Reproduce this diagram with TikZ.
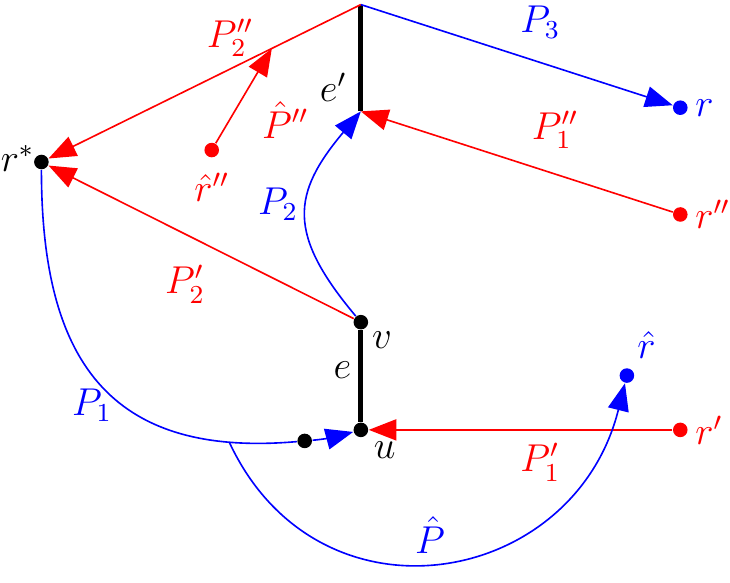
\documentclass[tikz,border=0pt]{standalone}
\usetikzlibrary{arrows.meta, positioning}

\begin{document}
\begin{tikzpicture}[
    dot/.style       = {circle, fill, inner sep=0pt, minimum size=4.5pt},
    bluearrow/.style = {-{Triangle[length=8.5pt,width=6.5pt]}, blue, line width=0.5pt},
    redarrow/.style  = {-{Triangle[length=8.5pt,width=6.5pt]}, red, line width=0.5pt},
    edgeline/.style  = {line width=1.6pt, black},
    lbl/.style       = {font=\large},
]
\useasboundingbox (-3.92,-1.66) rectangle (4.01,4.67);

% Knoten
\coordinate (top)  at (0,4.62);
\coordinate (ebot) at (0,3.46);
\node[dot] (u)     at (0,0) {};
\node[dot] (v)     at (0,1.17) {};
\node[dot] (w)     at (-0.61,-0.12) {};
\node[dot] (rstar) at (-3.47,2.91) {};
\node[dot, blue] (r)    at (3.47,3.50) {};
\node[dot, blue] (rhat) at (2.89,0.59) {};
\node[dot, red] (rpp)   at (3.47,2.34) {};
\node[dot, red] (rp)    at (3.47,0) {};
\node[dot, red] (rhpp)  at (-1.62,3.04) {};

% Kanten e und e'
\draw[edgeline] (top) -- (ebot);
\draw[edgeline] (v) -- (u);

% rote Pfade
\draw[redarrow] (top) -- coordinate[pos=0.285] (q) (rstar);
\draw[redarrow] (v) -- (rstar);
\draw[redarrow] (rpp) -- (ebot);
\draw[redarrow] (rp) -- (u);
\draw[redarrow] (rhpp) -- (q);

% blaue Pfade
\draw[bluearrow] (top) -- (r);
\draw[bluearrow] (v) to[out=130, in=-130, looseness=1.34] (ebot);
\draw[bluearrow] (rstar) to[out=-90, in=185, looseness=1.3] coordinate[pos=0.87] (br) (w)
                 to[out=5, in=195] (u);
\draw[bluearrow] (br) to[out=-65, in=-104, looseness=1.35] (rhat);

% Beschriftungen
\node[lbl, anchor=east, inner sep=0pt] (lrstar) at (-3.54,2.95) {$r^*$};
\node[lbl, blue, right=1pt of r, inner sep=1pt] (lr) {$r$};
\node[lbl, red, right=1pt of rpp, inner sep=1pt] (lrpp) {$r''$};
\node[lbl, red, right=1pt of rp, inner sep=1pt] (lrp) {$r'$};
\node[lbl, blue, above right=0pt and -2pt of rhat] (lrhat) {$\hat{r}$};
\node[lbl, red, below=1pt of rhpp] (lrhpp) {$\hat{r}''$};
\node[lbl] (lu) at (0.26,-0.22) {$u$};
\node[lbl] (lv) at (0.23,0.98) {$v$};
\node[lbl] (le) at (-0.20,0.65) {$e$};
\node[lbl] (lep) at (-0.30,3.72) {$e'$};
\node[lbl, blue] (lP3) at (1.95,4.43) {$P_3$};
\node[lbl, blue] (lP2) at (-0.90,2.45) {$P_2$};
\node[lbl, blue] (lP1) at (-2.92,0.27) {$P_1$};
\node[lbl, blue] (lPh) at (0.75,-1.14) {$\hat{P}$};
\node[lbl, red] (lP2pp) at (-1.42,4.26) {$P_2''$};
\node[lbl, red] (lPhpp) at (-0.82,3.37) {$\hat{P}''$};
\node[lbl, red] (lP1pp) at (2.11,3.26) {$P_1''$};
\node[lbl, red] (lP2p) at (-1.91,1.58) {$P_2'$};
\node[lbl, red] (lP1p) at (1.95,-0.35) {$P_1'$};

\end{tikzpicture}
\end{document}
